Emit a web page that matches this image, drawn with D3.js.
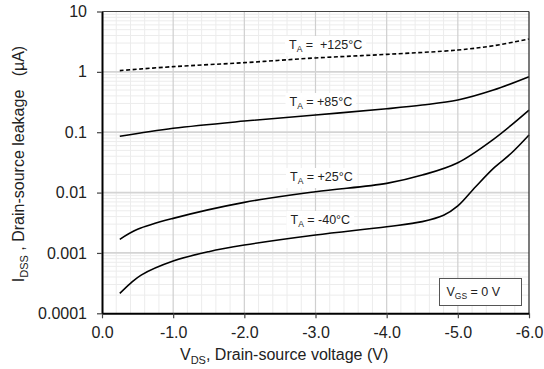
<!DOCTYPE html>
<html><head><meta charset="utf-8">
<script src="https://cdn.jsdelivr.net/npm/d3@7"></script>
<style>body{margin:0;background:#fff}svg{display:block;font-family:Arial,"Liberation Sans",sans-serif}</style>
</head><body>
<svg id="c" width="544" height="369"></svg>
<script>
const xTicks = [0, -1, -2, -3, -4, -5, -6];
const xTickLabels = ["0.0", "-1.0", "-2.0", "-3.0", "-4.0", "-5.0", "-6.0"];
const yTicks = [0.0001, 0.001, 0.01, 0.1, 1, 10];
const yTickLabels = ["0.0001", "0.001", "0.01", "0.1", "1", "10"];

const v125 = [-0.25, -1, -2, -3, -4, -5, -5.5, -6];
const i125 = [1.05, 1.22, 1.42, 1.70, 1.95, 2.30, 2.71, 3.5];
const v85 = [-0.25, -1, -2, -3, -4, -4.5, -5, -5.5, -6];
const i85 = [0.0855, 0.116, 0.153, 0.193, 0.245, 0.282, 0.342, 0.50, 0.83];
const v25 = [-0.25, -0.5, -1, -2, -3, -4, -4.5, -5, -5.5, -6];
const i25 = [0.00168, 0.00246, 0.00374, 0.00689, 0.01035, 0.0142, 0.0195, 0.0313, 0.0764, 0.233];
const vM40 = [-0.25, -0.4, -0.55, -1, -1.5, -2, -3, -4, -4.5, -4.8, -5, -5.25, -5.5, -5.75, -6];
const iM40 = [0.000214, 0.000314, 0.00043, 0.000735, 0.00105, 0.00135, 0.00198, 0.00272, 0.0033, 0.0042, 0.0060, 0.0125, 0.0252, 0.0448, 0.090];

const seriesLabels = ["+125°C", "+85°C", "+25°C", "-40°C"];

const svg = d3.select("#c");
const L = 102, R = 529, T = 11.5, B = 313.3;
const x = d3.scaleLinear().domain([0, -6]).range([L, R]);
const y = d3.scaleLog().domain([0.0001, 10]).range([B, T]);

// minor grid
const g = svg.append("g");
const minorX = d3.range(0, 31).map(k => -k * 0.2).filter(v => Math.abs(v * 5 % 5) > 0.01);
g.selectAll(".mx").data(minorX).enter().append("line")
  .attr("x1", d => x(d)).attr("x2", d => x(d)).attr("y1", T).attr("y2", B)
  .attr("stroke", "#ececec").attr("stroke-width", 1);
const minorY = [];
for (let e = -4; e < 1; e++) for (let m = 2; m <= 9; m++) minorY.push(m * Math.pow(10, e));
g.selectAll(".my").data(minorY).enter().append("line")
  .attr("x1", L).attr("x2", R).attr("y1", d => y(d)).attr("y2", d => y(d))
  .attr("stroke", "#ececec").attr("stroke-width", 1);
// major grid
g.selectAll(".Mx").data(xTicks.slice(1, -1)).enter().append("line")
  .attr("x1", d => x(d)).attr("x2", d => x(d)).attr("y1", T).attr("y2", B)
  .attr("stroke", "#cfcfcf").attr("stroke-width", 1.2);
g.selectAll(".My").data(yTicks.slice(1, -1)).enter().append("line")
  .attr("x1", L).attr("x2", R).attr("y1", d => y(d)).attr("y2", d => y(d))
  .attr("stroke", "#d4d4d4").attr("stroke-width", 1.8);

// curve labels (with white background, drawn under the curves)
const labelPos = [[289, 49], [289.5, 106], [290, 181], [290.5, 224]];
const labelLayer = svg.append("g");
seriesLabels.forEach((lab, k) => {
  const gg = labelLayer.append("g");
  const r = gg.append("rect").attr("fill", "#fff");
  const t = gg.append("text").attr("x", labelPos[k][0]).attr("y", labelPos[k][1])
    .attr("font-size", 12.5).attr("fill", "#222").style("white-space", "pre");
  t.append("tspan").text("T");
  t.append("tspan").attr("font-size", 8.5).attr("dy", 3).text("A");
  t.append("tspan").attr("dy", -3).text(k === 0 ? " =  " + lab : " = " + lab);
  const bb = t.node().getBBox();
  r.attr("x", bb.x - 4).attr("y", bb.y - 2).attr("width", bb.width + 8).attr("height", bb.height + 4);
});

// curves
const line = d3.line().x(d => x(d[0])).y(d => y(d[1])).curve(d3.curveCatmullRom.alpha(0.5));
const series = [[v125, i125, "4,2.5"], [v85, i85, null], [v25, i25, null], [vM40, iM40, null]];
series.forEach(s => {
  svg.append("path").datum(s[0].map((v, k) => [v, s[1][k]]))
    .attr("d", line).attr("fill", "none").attr("stroke", "#000")
    .attr("stroke-width", 1.6).attr("stroke-dasharray", s[2]);
});

// frame
svg.append("line").attr("x1", L).attr("x2", R).attr("y1", T).attr("y2", T).attr("stroke", "#444").attr("stroke-width", 1.2);
svg.append("line").attr("x1", R).attr("x2", R).attr("y1", T).attr("y2", B).attr("stroke", "#333").attr("stroke-width", 1.3);

// axes
const xAxis = d3.axisBottom(x).tickValues(xTicks).tickFormat((d, k) => xTickLabels[k]).tickSize(5).tickSizeOuter(0);
const ax = svg.append("g").attr("transform", `translate(0,${B})`).call(xAxis);
ax.select(".domain").attr("stroke", "#000").attr("stroke-width", 2);
ax.selectAll(".tick line").attr("stroke", "#444").attr("stroke-width", 1.2);
ax.selectAll(".tick text").attr("font-size", 16).attr("font-family", "Arial, 'Liberation Sans', sans-serif").attr("fill", "#222").attr("dy", "1.05em");

const yAxis = d3.axisLeft(y).tickValues(yTicks).tickFormat((d, k) => yTickLabels[k]).tickSize(5).tickSizeOuter(0);
const ay = svg.append("g").attr("transform", `translate(${L},0)`).call(yAxis);
ay.select(".domain").attr("stroke", "#000").attr("stroke-width", 2);
ay.selectAll(".tick line").attr("stroke", "#444").attr("stroke-width", 1.2);
ay.selectAll(".tick text").attr("font-size", 16).attr("font-family", "Arial, 'Liberation Sans', sans-serif").attr("fill", "#222").attr("x", -15);

// legend box
svg.append("rect").attr("x", 439.5).attr("y", 278.5).attr("width", 82).attr("height", 27)
  .attr("fill", "#fff").attr("stroke", "#555").attr("stroke-width", 1);
const lt = svg.append("text").attr("x", 446.5).attr("y", 296).attr("font-size", 12.5).attr("fill", "#222").style("white-space", "pre");
lt.append("tspan").text("V");
lt.append("tspan").attr("font-size", 8.5).attr("dy", 3).text("GS");
lt.append("tspan").attr("dy", -3).text(" = 0 V");

// axis titles
const xt = svg.append("text").attr("x", 180).attr("y", 360).attr("font-size", 16).attr("fill", "#222");
xt.append("tspan").text("V");
xt.append("tspan").attr("font-size", 11).attr("dy", 4).text("DS");
xt.append("tspan").attr("dy", -4).text(", Drain-source voltage (V)");

const yt = svg.append("text").attr("transform", "translate(24,164) rotate(-90)")
  .attr("text-anchor", "middle").attr("font-size", 16).attr("fill", "#222").style("white-space", "pre");
yt.append("tspan").text("I");
yt.append("tspan").attr("font-size", 11).attr("dy", 4).text("DSS");
yt.append("tspan").attr("dy", -4).text(" , Drain-source leakage   (µA)");
</script>
</body></html>
